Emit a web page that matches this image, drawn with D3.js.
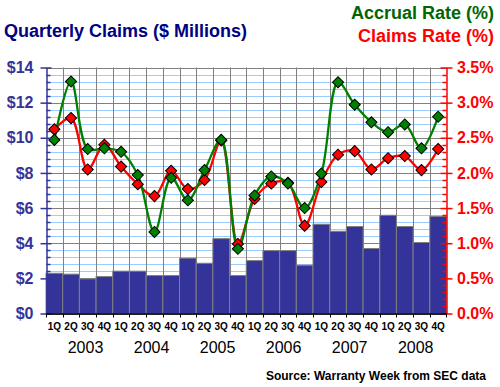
<!DOCTYPE html>
<html><head><meta charset="utf-8">
<script src="https://cdn.jsdelivr.net/npm/d3@7"></script>
<style>
html,body{margin:0;padding:0;background:#fff;}
svg{display:block;font-family:"Liberation Sans",Arial,sans-serif;}
</style></head>
<body><svg id="chart" width="500" height="387"></svg>
<script>
const years = ["2003","2004","2005","2006","2007","2008"];
const quarterNames = ["1Q","2Q","3Q","4Q"];
const periods = years.flatMap(y => quarterNames.map(q => q + " " + y));
const claims = [2.29,2.24,1.97,2.10,2.41,2.41,2.16,2.16,3.15,2.86,4.26,2.16,
                3.01,3.58,3.58,2.75,5.08,4.68,4.95,3.70,5.59,4.95,4.04,5.53];
const claimsRate = [2.62,2.78,2.05,2.40,2.09,1.84,1.67,2.03,1.77,1.90,2.46,0.99,
                    1.63,1.85,1.86,1.25,1.87,2.26,2.31,2.05,2.21,2.24,2.04,2.34];
const accrualRate = [2.47,3.30,2.34,2.35,2.30,1.97,1.16,1.93,1.61,2.04,2.47,0.92,
                     1.68,1.95,1.85,1.50,1.99,3.29,2.97,2.72,2.58,2.69,2.35,2.80];
const leftTicks = [0,2,4,6,8,10,12,14];
const leftTickLabels = ["$0","$2","$4","$6","$8","$10","$12","$14"];
const rightTicks = [0,0.5,1,1.5,2,2.5,3,3.5];
const rightTickLabels = ["0.0%","0.5%","1.0%","1.5%","2.0%","2.5%","3.0%","3.5%"];

const svg = d3.select("#chart");
const L = 46, R = 446.5, T = 67.5, B = 313.5;
const x = d3.scaleBand().domain(periods).range([L, R]).padding(0);
const y = d3.scaleLinear().domain([0,14]).range([B, T]);
const yR = d3.scaleLinear().domain([0,3.5]).range([B, T]);
const xYear = d3.scaleBand().domain(years).range([52.5, 448.7]);

const minorVals = d3.range(0, 14.001, 0.4).filter(v => Math.abs(v/2 - Math.round(v/2)) > 1e-6);
// minor grid
svg.append("g").selectAll("line").data(minorVals).join("line")
  .attr("x1", L).attr("x2", R).attr("y1", d => Math.round(y(d))+0.5).attr("y2", d => Math.round(y(d))+0.5)
  .attr("stroke", "#99ccff").attr("stroke-width", 1);
// major grid
svg.append("g").selectAll("line").data(leftTicks).join("line")
  .attr("x1", L).attr("x2", R).attr("y1", d => Math.round(y(d))+0.5).attr("y2", d => Math.round(y(d))+0.5)
  .attr("stroke", "#808080").attr("stroke-width", 1);
// vertical grid
svg.append("g").selectAll("line").data(periods.slice(1)).join("line")
  .attr("x1", d => Math.round(x(d))+0.5).attr("x2", d => Math.round(x(d))+0.5)
  .attr("y1", T).attr("y2", B)
  .attr("stroke", "#808080").attr("stroke-width", 1);

// bars
svg.append("g").selectAll("rect").data(claims).join("rect")
  .attr("x", (d,i) => x(periods[i]))
  .attr("width", x.bandwidth())
  .attr("y", d => y(d))
  .attr("height", d => B - y(d))
  .attr("fill", "#333399").attr("stroke", "#808080").attr("stroke-width", 1);

// lines
const line = d3.line()
  .x((d,i) => x(periods[i]) + x.bandwidth()/2)
  .y(d => yR(d))
  .curve(d3.curveCatmullRom.alpha(0.5));
svg.append("path").datum(claimsRate).attr("d", line)
  .attr("fill","none").attr("stroke","#ff0000").attr("stroke-width",2.3);
svg.append("path").datum(accrualRate).attr("d", line)
  .attr("fill","none").attr("stroke","#008000").attr("stroke-width",2.3);

const diamond = d3.symbol(d3.symbolSquare, 62);
function markers(data, color){
  svg.append("g").selectAll("path").data(data).join("path")
    .attr("d", diamond)
    .attr("transform", (d,i) => `translate(${x(periods[i]) + x.bandwidth()/2},${yR(d)}) rotate(45)`)
    .attr("fill", color).attr("stroke", "#000").attr("stroke-width", 1);
}
markers(claimsRate, "#ff0000");
markers(accrualRate, "#008000");

// left axis
const leftAxis = d3.axisLeft(y).tickValues(leftTicks)
  .tickFormat((d,i) => leftTickLabels[i]).tickSizeInner(-5).tickSizeOuter(0).tickPadding(0);
const gl = svg.append("g").attr("transform", `translate(${L+0.5},0)`).call(leftAxis);
gl.select(".domain").attr("stroke", "#333399").attr("stroke-width", 1.5);
gl.selectAll(".tick line").attr("stroke", "#333399").attr("stroke-width", 1.5).attr("x1", -6).attr("x2", 5);
gl.selectAll(".tick text").attr("x", -13).attr("fill", "#333399")
  .attr("font-size", 16).attr("font-weight", "bold").attr("font-family", "Liberation Sans, Arial, sans-serif");
gl.append("g").selectAll("line").data(minorVals).join("line")
  .attr("x1", 0).attr("x2", 4).attr("y1", d => Math.round(y(d))+0.5).attr("y2", d => Math.round(y(d))+0.5)
  .attr("stroke", "#333399").attr("stroke-width", 1.5);

// right axis
const rightAxis = d3.axisRight(yR).tickValues(rightTicks)
  .tickFormat((d,i) => rightTickLabels[i]).tickSizeInner(6).tickSizeOuter(0).tickPadding(0);
const gr = svg.append("g").attr("transform", `translate(${R},0)`).call(rightAxis);
gr.select(".domain").attr("stroke", "#ff0000").attr("stroke-width", 1.5);
gr.selectAll(".tick line").attr("stroke", "#ff0000").attr("stroke-width", 1.5).attr("x1", -6).attr("x2", 6);
gr.selectAll(".tick text").attr("x", 10.5).attr("fill", "#ff0000")
  .attr("font-size", 16).attr("font-weight", "bold").attr("font-family", "Liberation Sans, Arial, sans-serif");
gr.append("g").selectAll("line").data(minorVals.map(v => v/4)).join("line")
  .attr("x1", -4).attr("x2", 0).attr("y1", d => Math.round(yR(d))+0.5).attr("y2", d => Math.round(yR(d))+0.5)
  .attr("stroke", "#ff0000").attr("stroke-width", 1.5);

// bottom axis
const bottomAxis = d3.axisBottom(x).tickFormat(d => d.split(" ")[0]).tickSize(0).tickPadding(9);
const gb = svg.append("g").attr("transform", `translate(0,${B})`).call(bottomAxis);
gb.select(".domain").attr("stroke", "#000").attr("stroke-width", 1.5);
gb.selectAll(".tick text").attr("fill", "#000").attr("font-size", 10).attr("font-weight", "bold")
  .attr("font-family", "Liberation Sans, Arial, sans-serif");
gb.append("g").selectAll("line").data(periods.concat(["end"])).join("line")
  .attr("x1", d => d === "end" ? R : Math.round(x(d))+0.5)
  .attr("x2", d => d === "end" ? R : Math.round(x(d))+0.5)
  .attr("y1", 0).attr("y2", 4).attr("stroke", "#000").attr("stroke-width", 1);

// years
svg.append("g").selectAll("text").data(years).join("text")
  .attr("x", d => xYear(d) + xYear.bandwidth()/2).attr("y", 352.5)
  .attr("text-anchor", "middle").attr("font-size", 16).attr("fill", "#000").text(d => d);

// titles
svg.append("text").attr("x", 4).attr("y", 37).attr("font-size", 18).attr("font-weight", "bold")
  .attr("fill", "#000080").text("Quarterly Claims ($ Millions)");
svg.append("text").attr("x", 494).attr("y", 18.5).attr("text-anchor", "end").attr("font-size", 18)
  .attr("font-weight", "bold").attr("fill", "#006600").text("Accrual Rate (%)");
svg.append("text").attr("x", 494).attr("y", 41.5).attr("text-anchor", "end").attr("font-size", 18)
  .attr("font-weight", "bold").attr("fill", "#ff0000").text("Claims Rate (%)");
svg.append("text").attr("x", 486).attr("y", 380).attr("text-anchor", "end").attr("font-size", 12)
  .attr("font-weight", "bold").attr("fill", "#000").text("Source: Warranty Week from SEC data");
</script></body></html>
